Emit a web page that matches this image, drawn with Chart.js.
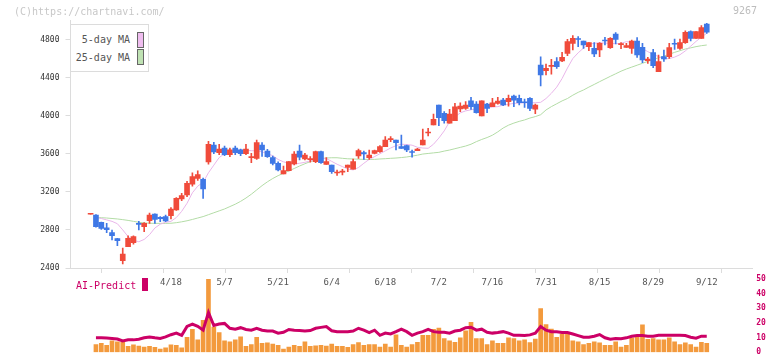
<!DOCTYPE html>
<html><head><meta charset="utf-8">
<script src="https://cdn.jsdelivr.net/npm/chart.js@4/dist/chart.umd.min.js"></script>
<style>
html,body{margin:0;padding:0;background:#fff;}
#wrap{position:relative;width:772px;height:361px;overflow:hidden;font-family:"DejaVu Sans Mono",monospace;background:#fff;}
#cA{position:absolute;left:0;top:0;width:772px;height:300px;}
#cB{position:absolute;left:0;top:270px;width:772px;height:91px;}
.t{position:absolute;white-space:pre;}
</style></head><body>
<div id="wrap">
<canvas id="cA" width="772" height="300"></canvas>
<canvas id="cB" width="772" height="91"></canvas>
<div class="t" style="left:14px;top:6px;font-size:10px;line-height:12px;color:#c8c8c8">(C)https://chartnavi.com/</div>
<div class="t" style="left:733px;top:5px;font-size:10px;line-height:12px;color:#bdbdbd">9267</div>
<div style="position:absolute;left:70px;top:24px;width:77px;height:46px;border:1px solid #dcdcdc;background:#fff;">
  <div class="t" style="right:18px;top:9px;font-size:10px;line-height:12px;color:#555">5-day MA</div>
  <div style="position:absolute;left:66px;top:7px;width:5px;height:14px;background:#efbdef;border:1px solid #666"></div>
  <div class="t" style="right:18px;top:27px;font-size:10px;line-height:12px;color:#555">25-day MA</div>
  <div style="position:absolute;left:66px;top:24px;width:5px;height:14px;background:#bfe2b3;border:1px solid #666"></div>
</div>
<div class="t" style="left:76px;top:280px;font-size:10px;line-height:12px;color:#cc0066">AI-Predict</div>
<div style="position:absolute;left:142px;top:278px;width:6px;height:13px;background:#cc0066"></div>
</div>
<script>
// ---- data (trading-day index relative to 4/18) ----
const FIRST_IDX = -15;
const openP  = [2965,2957,2880,2823,2771,2708,2477,2624,2666,2866,2834,2897,2967,2932,2939,
 2949,3009,3125,3167,3280,3340,3330,3513,3690,3610,3660,3590,3660,3640,3600,
 3560,3552,3692,3629,3559,3499,3387,3422,3492,3629,3545,3538,3517,3622,3489,
 3482,3398,3407,3457,3437,3576,3611,3559,3604,3622,3674,3748,3744,3674,3685,
 3617,3632,3692,3818,3902,4112,4025,3920,3947,4070,4077,4157,4122,3996,4122,
 4094,4129,4164,4147,4206,4182,4143,4182,4067,4532,4472,4518,4567,4574,4655,
 4760,4805,4784,4724,4707,4690,4791,4714,4858,4746,4718,4707,4784,4718,4577,
 4662,4462,4620,4620,4756,4707,4767,4882,4812,4812,4963];
const highP  = [2965,2960,2882,2869,2799,2712,2610,2739,2739,2890,2876,2978,2970,2939,2957,
 3034,3140,3185,3310,3400,3420,3345,3730,3720,3700,3680,3660,3680,3650,3700,
 3605,3744,3716,3646,3576,3516,3471,3517,3622,3692,3604,3570,3629,3629,3559,
 3482,3429,3436,3482,3545,3650,3629,3639,3639,3685,3779,3779,3744,3797,3692,
 3639,3657,3860,3867,4017,4112,4042,4066,4129,4136,4147,4192,4147,4157,4129,
 4182,4192,4182,4217,4217,4217,4175,4189,4122,4619,4542,4592,4609,4665,4802,
 4840,4830,4784,4767,4767,4767,4823,4819,4872,4767,4760,4795,4819,4760,4613,
 4697,4637,4690,4760,4805,4805,4890,4890,4882,4945,4970];
const lowP   = [2965,2830,2805,2771,2694,2634,2442,2624,2650,2800,2781,2869,2869,2887,2887,
 2915,3005,3107,3150,3260,3320,3132,3490,3600,3590,3580,3570,3590,3580,3590,
 3506,3541,3573,3562,3482,3419,3387,3419,3482,3534,3534,3512,3506,3499,3489,
 3394,3373,3377,3412,3437,3552,3541,3541,3597,3615,3674,3727,3639,3657,3622,
 3563,3632,3692,3787,3902,3894,3920,3920,3947,4042,4066,4066,4025,3996,4031,
 4094,4122,4105,4101,4094,4112,4087,4052,4021,4312,4427,4437,4497,4567,4630,
 4690,4725,4707,4683,4620,4620,4742,4707,4753,4704,4718,4655,4613,4557,4550,
 4504,4462,4571,4602,4697,4697,4760,4784,4812,4812,4865];
const closeP = [2965,2834,2817,2802,2739,2687,2547,2712,2729,2858,2869,2957,2911,2918,2894,
 3020,3132,3161,3290,3360,3380,3230,3700,3620,3650,3590,3640,3610,3600,3650,
 3566,3716,3639,3569,3499,3429,3422,3517,3597,3563,3587,3543,3622,3506,3517,
 3412,3403,3415,3482,3517,3632,3597,3587,3632,3674,3744,3753,3716,3657,3639,
 3613,3650,3744,3824,3962,3979,3947,4017,4094,4101,4112,4094,4031,4157,4077,
 4136,4154,4112,4182,4164,4136,4136,4077,4112,4427,4497,4525,4514,4613,4777,
 4812,4800,4742,4767,4648,4760,4784,4812,4802,4752,4735,4784,4637,4585,4595,
 4525,4567,4595,4714,4750,4767,4876,4812,4882,4924,4876];
const volume = [null,5.2,6.0,4.6,7.7,7.1,6.7,4.0,5.0,4.2,3.5,4.0,3.3,2.1,2.9,
 5.0,4.6,2.9,10.2,15.5,8.4,21.7,49.6,17.1,13.4,7.7,7.1,8.4,10.4,4.0,
 5.2,10.2,6.0,6.3,5.6,4.6,2.1,3.5,4.6,4.0,7.1,4.0,4.3,4.6,4.2,
 5.6,4.0,4.0,3.3,5.2,6.5,4.6,5.2,5.2,3.5,5.6,3.5,11.9,4.6,3.5,
 5.2,6.7,11.5,11.5,15.5,16.5,9.2,7.7,6.7,9.8,14.6,20.3,9.2,9.2,5.2,
 7.7,6.0,6.0,9.8,9.2,7.7,8.4,6.5,9.0,29.7,18.8,15.7,10.2,12.3,12.3,
 7.7,7.1,5.2,6.0,7.1,6.3,4.6,4.6,7.1,3.5,4.6,9.8,10.4,18.6,8.8,
 9.2,8.4,8.4,9.8,7.1,5.2,6.3,5.2,3.5,6.7,6.0];
const aiPredict = [null,9.8,9.8,9.6,9.4,9.0,7.7,8.4,8.4,8.8,9.8,10.4,9.8,9.4,10.4,
 11.9,13,11.5,17.6,19.2,17.6,15,27,18.2,19.2,19.6,16.3,15.7,16.7,15.5,
 15,16.3,15,14.4,14.4,13,13.6,15.5,15,14.8,14.5,14.7,16.3,16.9,17.5,
 14.6,14,14,14,14.4,16.3,15,13.4,15,11.5,13,12.4,14,15.7,14,
 11.5,13,14,15.5,14,13.6,13.6,13,14.4,15,16.7,17,15,15.7,13.6,
 13,13.4,14,13,11.5,11.5,11.4,11.8,13,17.5,15,14,14,13.4,13.4,
 12.4,11.3,10.2,10.2,10.9,12,9.8,8.8,9.4,9.2,9.8,10.9,11.3,11.3,10.9,
 10.9,11.5,11.5,11.5,11.5,11.5,11.3,10.2,9.6,10.9,10.9];
const ma5 = [null,2930,2920,2905,2890,2865,2800,2730,2690,2676,2700,2750,2820,2860,2880,
 2890,2930,2995,3080,3190,3260,3300,3400,3480,3560,3600,3620,3630,3640,3635,
 3632,3630,3620,3600,3580,3540,3515,3500,3492,3500,3510,3525,3541,3548,3550,
 3520,3490,3465,3440,3430,3455,3500,3541,3570,3600,3630,3660,3685,3700,3697,
 3690,3668,3660,3657,3700,3765,3840,3937,3985,4030,4050,4062,4070,4078,4085,
 4090,4095,4110,4120,4129,4132,4135,4136,4136,4140,4180,4235,4300,4390,4500,
 4600,4660,4710,4750,4760,4767,4762,4760,4755,4760,4777,4772,4730,4705,4672,
 4645,4620,4595,4600,4615,4640,4680,4730,4780,4825,4865];
const ma25 = [null,2930,2928,2925,2920,2915,2908,2900,2890,2880,2874,2870,2869,2869,2869,
 2870,2876,2885,2896,2910,2925,2940,2960,2980,3000,3020,3045,3070,3100,3135,
 3175,3220,3265,3305,3340,3370,3395,3420,3445,3471,3495,3517,3535,3550,3555,
 3558,3558,3552,3547,3545,3543,3541,3541,3541,3545,3548,3552,3555,3560,3566,
 3575,3585,3597,3603,3609,3615,3628,3639,3653,3667,3681,3700,3727,3750,3770,
 3795,3830,3870,3900,3922,3940,3955,3975,3990,4010,4060,4095,4125,4155,4180,
 4215,4245,4270,4300,4328,4357,4385,4413,4440,4467,4490,4510,4530,4550,4570,
 4590,4608,4625,4645,4665,4682,4700,4712,4725,4735,4742];
const priceTicks = [2400,2800,3200,3600,4000,4400,4800];
const aiTicks = [0,10,20,30,40,50];
const dateTickIdx  = [0,10,20,30,40,50,60,70,80,90,100];
const dateTickText = ['4/18','5/7','5/21','6/4','6/18','7/2','7/16','7/31','8/15','8/29','9/12'];

// ---- build ----
const dayIdx = openP.map((_, i) => i + FIRST_IDX);
const X_MIN = -18.75, X_MAX = 108.5;
const RED = '#f04b3b', BLUE = '#3f78e6';
const FONT = 'DejaVu Sans Mono';
const candleColor = dayIdx.map((_, i) => closeP[i] >= openP[i] ? RED : BLUE);
const AXIS_GREY = '#dcdcdc';

new Chart(document.getElementById('cA'), {
  type: 'bar',
  data: { datasets: [
    { type: 'line', data: dayIdx.map((x, i) => ({x, y: ma25[i]})), borderColor: '#b3dca6', borderWidth: 1, pointRadius: 0, order: 4 },
    { type: 'line', data: dayIdx.map((x, i) => ({x, y: ma5[i]})), borderColor: '#e9b6ea', borderWidth: 1, pointRadius: 0, order: 3 },
    { data: dayIdx.map((x, i) => ({x, y: [lowP[i], highP[i]]})), backgroundColor: candleColor, barThickness: 1, grouped: false, minBarLength: 1, order: 2 },
    { data: dayIdx.map((x, i) => ({x, y: [openP[i], closeP[i]]})), backgroundColor: candleColor, barThickness: 5, grouped: false, minBarLength: 1, order: 1 }
  ]},
  options: {
    responsive: false, animation: false, devicePixelRatio: 1,
    layout: { padding: { top: 20.45, right: 19.7, bottom: 0, left: 0 } },
    plugins: { legend: { display: false }, tooltip: { enabled: false } },
    scales: {
      x: { type: 'linear', min: X_MIN, max: X_MAX, offset: false,
        afterBuildTicks: s => { const n = 11; s.ticks = Array.from({length: n + 1}, (_, k) => ({value: X_MIN + k * (X_MAX - X_MIN) / n})); },
        afterFit: s => { s.height = 5; },
        grid: { drawOnChartArea: false, tickLength: 5, color: AXIS_GREY },
        border: { color: AXIS_GREY },
        ticks: { display: false } },
      x2: { type: 'linear', position: 'bottom', min: X_MIN, max: X_MAX, offset: false,
        afterBuildTicks: s => { s.ticks = dateTickIdx.map(v => ({value: v})); },
        afterFit: s => { s.height = 27; },
        grid: { display: false, drawTicks: false },
        border: { display: false },
        ticks: { autoSkip: false, maxRotation: 0, padding: 4, color: '#555', font: { family: FONT, size: 9 },
          callback: (v, i) => dateTickText[i] } },
      y: { min: 2400, max: 5000,
        afterBuildTicks: s => { s.ticks = priceTicks.map(v => ({value: v})); },
        afterFit: s => { s.width = 70.5; },
        grid: { drawOnChartArea: false, tickLength: 5, color: AXIS_GREY },
        border: { color: AXIS_GREY },
        ticks: { padding: 6, color: '#333', font: { family: FONT, size: 8 }, callback: v => String(v) } }
    }
  }
});

new Chart(document.getElementById('cB'), {
  type: 'bar',
  data: { datasets: [
    { type: 'line', data: dayIdx.map((x, i) => ({x, y: aiPredict[i]})), borderColor: '#cc0066', borderWidth: 3, pointRadius: 0, order: 1 },
    { data: dayIdx.map((x, i) => ({x, y: volume[i]})), backgroundColor: '#f39a3d', barThickness: 4, grouped: false, order: 2 }
  ]},
  options: {
    responsive: false, animation: false, devicePixelRatio: 1,
    layout: { padding: { top: 7.7, right: 0, bottom: 3.7, left: 70.5 } },
    plugins: { legend: { display: false }, tooltip: { enabled: false } },
    scales: {
      x: { type: 'linear', min: X_MIN, max: X_MAX, offset: false, display: false },
      y: { position: 'right', min: 0, max: 50,
        afterBuildTicks: s => { s.ticks = aiTicks.map(v => ({value: v})); },
        afterFit: s => { s.width = 19.7; },
        grid: { display: false, drawTicks: false },
        border: { display: false },
        ticks: { padding: 4, color: '#cc0066', font: { family: FONT, size: 8, weight: 'bold' }, callback: v => String(v) } }
    }
  }
});
</script>
</body></html>
